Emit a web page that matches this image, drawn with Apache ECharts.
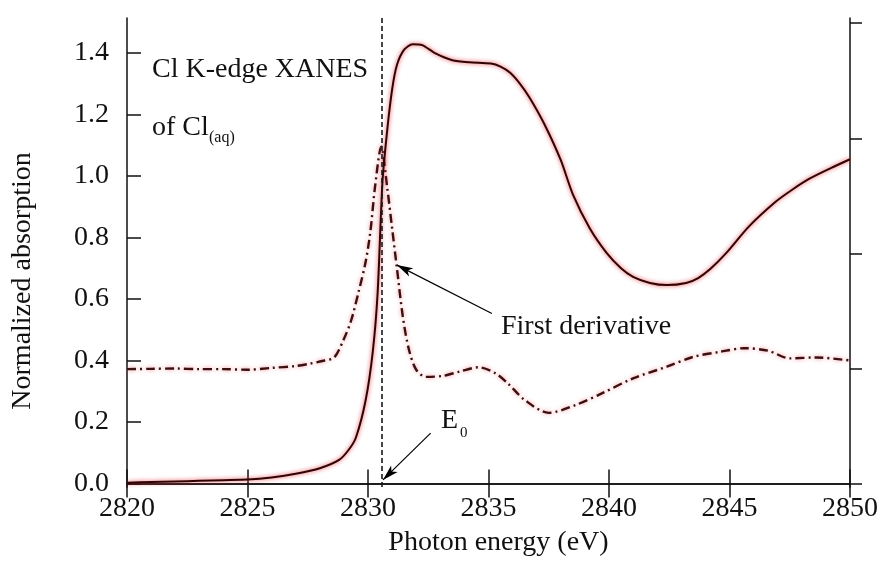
<!DOCTYPE html>
<html>
<head>
<meta charset="utf-8">
<script src="https://cdn.jsdelivr.net/npm/echarts@6/dist/echarts.min.js"></script>
<style>html,body{margin:0;padding:0;background:#fff;}#c{width:881px;height:567px;}</style>
</head>
<body>
<div id="c"></div>
<script>
// ---- data ----
const absEnergy = [2820.0,2821,2822,2823,2824,2825,2826,2827,2828,2828.8,2829.2,2829.5,2829.9,2830.2,2830.4,2830.6,2830.8,2831.0,2831.2,2831.5,2831.85,2832.25,2832.8,2833.5,2834.2,2835.1,2835.5,2835.9,2836.3,2836.7,2837.3,2838.0,2838.5,2839.2,2839.9,2840.5,2841.0,2841.7,2842.4,2843.2,2843.7,2844.2,2844.85,2845.8,2846.9,2847.6,2848.3,2849.2,2850.0];
const absorption = [0.003,0.005,0.007,0.009,0.011,0.013,0.020,0.032,0.050,0.077,0.11,0.15,0.27,0.43,0.62,0.98,1.15,1.28,1.36,1.41,1.428,1.425,1.398,1.376,1.369,1.365,1.355,1.335,1.30,1.255,1.171,1.051,0.94,0.83,0.75,0.70,0.672,0.652,0.645,0.652,0.668,0.697,0.748,0.835,0.915,0.955,0.99,1.025,1.054];
const derEnergy = [2820,2821,2822,2823,2824,2825,2826,2827,2827.6,2828.2,2828.6,2829.0,2829.3,2829.6,2829.9,2830.1,2830.3,2830.55,2830.8,2831.0,2831.2,2831.45,2831.7,2832.0,2832.4,2833.1,2833.8,2834.6,2835.3,2835.8,2836.5,2837.5,2838.6,2839.7,2841.0,2842.4,2843.5,2844.6,2845.6,2846.6,2847.5,2848.6,2850.0];
const derivative = [0.372,0.373,0.374,0.372,0.372,0.370,0.376,0.382,0.39,0.40,0.41,0.47,0.53,0.62,0.72,0.82,0.97,1.095,0.96,0.83,0.70,0.54,0.435,0.37,0.347,0.35,0.364,0.378,0.358,0.326,0.272,0.23,0.255,0.293,0.342,0.38,0.412,0.428,0.44,0.432,0.407,0.41,0.40];
const e0 = 2830.55;
const xTicks = [2820,2825,2830,2835,2840,2845,2850];
const yTicks = [0.0,0.2,0.4,0.6,0.8,1.0,1.2,1.4];
const rightTicks = [0,1,2,3,4];
const xName = 'Photon energy (eV)';
const yName = 'Normalized absorption';

const pair = (xs, ys) => xs.map((x, i) => [x, ys[i]]);
const FONT = '"Liberation Serif", "Times New Roman", serif';
const FS = 28;
const chart = echarts.init(document.getElementById('c'));
const axisLine = {show: true, lineStyle: {color: '#111', width: 1.5}};

chart.setOption({
  animation: false,
  backgroundColor: '#fff',
  grid: {left: 127, right: 26, top: 18, bottom: 80, containLabel: false},
  xAxis: [{
    type: 'value', min: 2820, max: 2850, interval: 5, position: 'bottom',
    axisLine, splitLine: {show: false},
    axisTick: {inside: true, length: 14, customValues: xTicks, lineStyle: {color: '#111', width: 1.5}},
    axisLabel: {fontFamily: FONT, fontSize: FS, color: '#111', margin: 8, customValues: xTicks,
      formatter: v => String(v)},
    name: xName, nameLocation: 'middle', nameGap: 42,
    nameTextStyle: {fontFamily: FONT, fontSize: FS, color: '#111', padding: [0, 0, 0, 20]}
  }, {
    type: 'value', min: 2820, max: 2850, interval: 5, position: 'top',
    axisLine, splitLine: {show: false},
    axisTick: {inside: true, length: 14, customValues: xTicks, lineStyle: {color: '#111', width: 1.5}},
    axisLabel: {show: false}
  }],
  yAxis: [{
    type: 'value', min: -0.011, max: 1.513, position: 'left',
    axisLine, splitLine: {show: false},
    axisTick: {inside: true, length: 14, customValues: yTicks, lineStyle: {color: '#111', width: 1.5}},
    axisLabel: {fontFamily: FONT, fontSize: FS, color: '#111', margin: 18, customValues: yTicks,
      formatter: v => v.toFixed(1)}
  }, {
    type: 'value', min: -0.03, max: 4.045, position: 'right',
    axisLine, splitLine: {show: false},
    axisTick: {inside: false, length: 12, customValues: rightTicks, lineStyle: {color: '#111', width: 1.5}},
    axisLabel: {show: false}
  }],
  series: [{
    type: 'line', name: 'derivative', data: pair(derEnergy, derivative),
    smooth: 0.3, symbol: 'none',
    lineStyle: {color: '#3c1010', width: 2.4, type: [9, 4, 2, 4],
      shadowColor: 'rgba(235,90,100,0.7)', shadowBlur: 4}
  }, {
    type: 'line', name: 'absorption', data: pair(absEnergy, absorption),
    smooth: 0.25, symbol: 'none',
    lineStyle: {color: '#300404', width: 2, shadowColor: 'rgba(230,40,50,0.9)', shadowBlur: 4},
    markLine: {
      silent: true, animation: false,
      label: {show: false},
      data: [
        [{coord: [e0, -0.011], symbol: 'none', lineStyle: {type: [5, 3], color: '#1a1a1a', width: 1.6}},
         {coord: [e0, 1.513], symbol: 'none'}],
        [{coord: [2835.14, 0.553], symbol: 'none', lineStyle: {type: 'solid', color: '#000', width: 1.2}},
         {coord: [2831.2, 0.71], symbol: 'arrow', symbolSize: [7, 16]}],
        [{coord: [2832.6, 0.164], symbol: 'none', lineStyle: {type: 'solid', color: '#000', width: 1.2}},
         {coord: [2830.62, 0.012], symbol: 'arrow', symbolSize: [7, 16]}]
      ]
    }
  }],
  graphic: [
    {type: 'text', x: 23, y: 281, rotation: Math.PI / 2,
      style: {text: yName, font: FS + 'px ' + FONT, fill: '#111', align: 'center', verticalAlign: 'middle'}},
    {type: 'text', left: 152, top: 56, style: {text: 'Cl K-edge XANES', font: FS + 'px ' + FONT, fill: '#111'}},
    {type: 'text', left: 152, top: 114, style: {text: 'of Cl', font: FS + 'px ' + FONT, fill: '#111'}},
    {type: 'text', left: 209, top: 130, style: {text: '(aq)', font: '16px ' + FONT, fill: '#111'}},
    {type: 'text', left: 501, top: 313, style: {text: 'First derivative', font: FS + 'px ' + FONT, fill: '#111'}},
    {type: 'text', left: 441, top: 407, style: {text: 'E', font: FS + 'px ' + FONT, fill: '#111'}},
    {type: 'text', left: 460, top: 426, style: {text: '0', font: '15px ' + FONT, fill: '#111'}}
  ]
});
</script>
</body>
</html>
